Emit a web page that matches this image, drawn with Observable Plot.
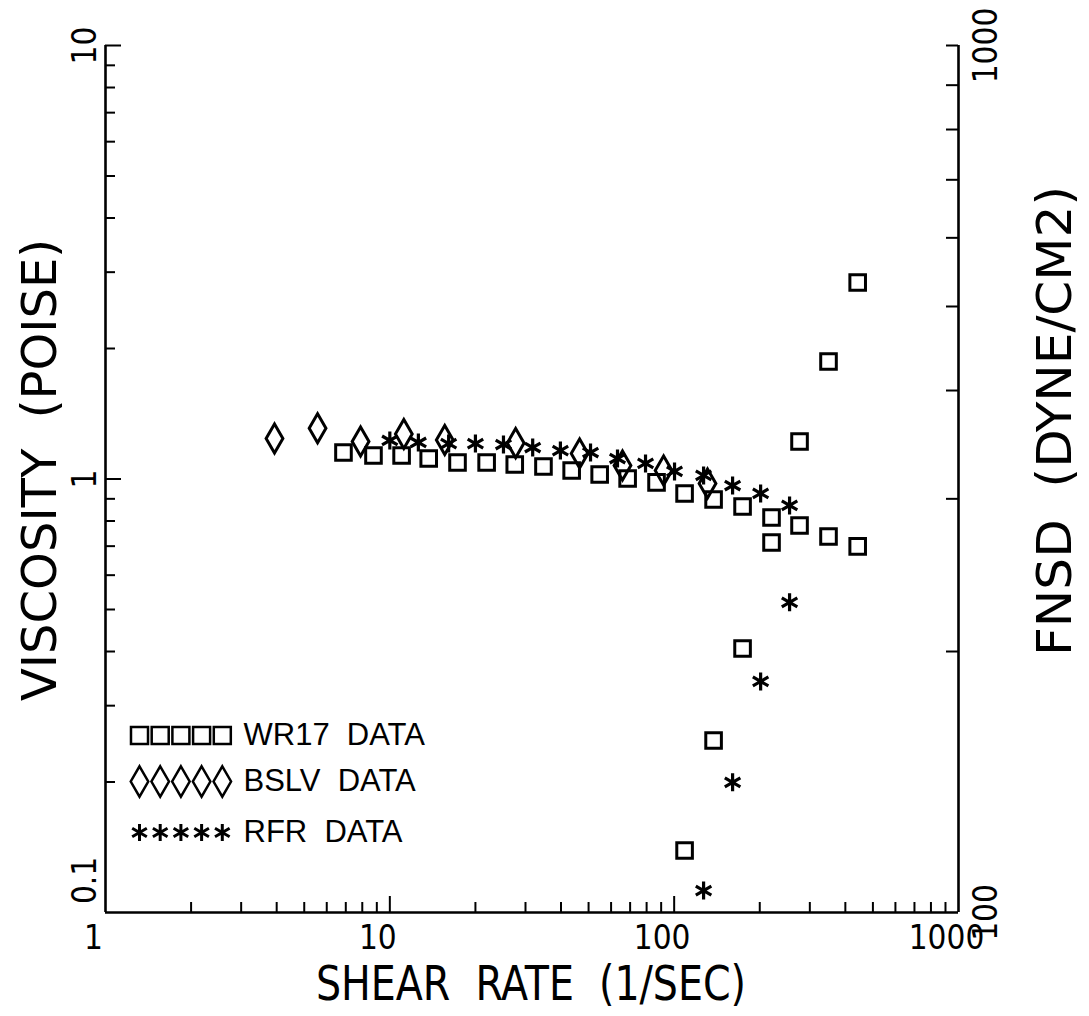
<!DOCTYPE html>
<html><head><meta charset="utf-8">
<script src="https://cdn.jsdelivr.net/npm/d3@7"></script>
<script src="https://cdn.jsdelivr.net/npm/@observablehq/plot@0.6"></script>
<style>
html,body{margin:0;padding:0;background:#fff;}
#chart svg text{white-space:pre;}
</style></head>
<body><div id="chart"></div>
<script>
// ---- data ----
const wr17Shear     = [6.87, 8.76, 11.0, 13.7, 17.3, 21.9, 27.5, 34.7, 43.6, 54.7, 68.6, 86.7, 108.8, 137.6, 174, 220, 276, 349, 442];
const wr17Viscosity = [1.151, 1.133, 1.133, 1.115, 1.092, 1.092, 1.080, 1.069, 1.046, 1.024, 1.003, 0.982, 0.926, 0.897, 0.864, 0.815, 0.781, 0.737, 0.699];
const wr17FnsdShear = [108.8, 137.6, 174, 220, 276, 349, 442];
const wr17Fnsd      = [117.9, 157.9, 201.6, 267.2, 349.4, 432.0, 532.8];
const bslvShear     = [3.93, 5.57, 7.89, 11.2, 15.6, 27.7, 46.5, 65.8, 91.8, 131];
const bslvViscosity = [1.24, 1.31, 1.22, 1.27, 1.23, 1.21, 1.145, 1.074, 1.046, 0.976];
const rfrShear      = [10.0, 12.6, 16.1, 20.0, 25.1, 31.8, 39.8, 50.8, 63.2, 79.3, 100.3, 126.9, 160.5, 201.4, 254.6];
const rfrViscosity  = [1.227, 1.214, 1.207, 1.207, 1.201, 1.182, 1.163, 1.151, 1.115, 1.086, 1.041, 1.019, 0.966, 0.926, 0.869];
const rfrFnsdShear  = [126.9, 160.5, 201.4, 254.6];
const rfrFnsd       = [106.0, 141.3, 184.7, 227.9];

const xTickValues = [1, 10, 100, 1000];
const xTickLabels = ["1", "10", "100", "1000"];
const xMinorTicks = [2,3,4,5,6,7,8,9,20,30,40,50,60,70,80,90,200,300,400,500,600,700,800,900];
const xMajorTicks = [10, 100];
const viscTickValues = [1, 10];
const viscTickLabels = ["1", "10"];
const viscBottomValue = [0.1];
const viscBottomLabel = ["0.1"];
const viscMinorTicks = [0.2,0.3,0.4,0.5,0.6,0.7,0.8,0.9,2,3,4,5,6,7,8,9];
const viscMajorTicks = [1, 10];
const fnsdTickValues = [100, 1000];
const fnsdTickLabels = ["100", "1000"];
const fnsdMinorTicks = [200,300,400,500,600,700,800,900,1000];

const xTitle = "SHEAR  RATE  (1/SEC)";
const yTitle = "VISCOSITY  (POISE)";
const y2Title = "FNSD  (DYNE/CM2)";
const legendLabels = ["WR17  DATA", "BSLV  DATA", "RFR  DATA"];
const legendSymbols = ["square", "diamond", "asterisk"];

// right axis (FNSD, one decade 100..1000) shares the frame with viscosity (0.1..10)
const fnsdToY = f => f * f / 1e5;

// ---- chart ----
const W = 1089, H = 1016, mL = 105, mR = 131, mT = 45, mB = 104;
const fw = W - mL - mR, fh = H - mT - mB;
const narrow = '"Liberation Sans Narrow", "DejaVu Sans Condensed", "Liberation Sans", sans-serif';
const regular = '"Liberation Sans", Arial, sans-serif';

const pts = (xs, ys, f = d => d) => xs.map((x, i) => ({x, y: f(ys[i])}));
const sym = {stroke: "black", fill: "none", strokeWidth: 3};
const tickFont = {fontSize: 33, fontFamily: narrow, fill: "black", textAnchor: "middle", lineAnchor: "middle"};
const titleFont = {fontSize: 48, fontFamily: narrow, fill: "black", textAnchor: "middle", lineAnchor: "middle"};

const marks = [
  Plot.ruleX([1], {strokeWidth: 2.6}),
  Plot.ruleX([1000], {strokeWidth: 2.6}),
  Plot.ruleY([0.1], {strokeWidth: 2.6}),
  Plot.tickY(viscMinorTicks, {insetRight: fw - 10, strokeWidth: 2}),
  Plot.tickY(viscMajorTicks, {insetRight: fw - 16, strokeWidth: 2}),
  Plot.tickY(fnsdMinorTicks, {y: fnsdToY, insetLeft: fw - 12, strokeWidth: 2}),
  Plot.tickX(xMinorTicks, {insetTop: fh - 10, strokeWidth: 2}),
  Plot.tickX(xMajorTicks, {insetTop: fh - 16, strokeWidth: 2}),
  // tick labels
  Plot.text(xTickValues, {x: d => d, text: (d, i) => xTickLabels[i], frameAnchor: "bottom", dx: -12, dy: 26, ...tickFont}),
  Plot.text(viscTickValues, {y: d => d, text: (d, i) => viscTickLabels[i], frameAnchor: "left", dx: -20, rotate: -90, ...tickFont}),
  Plot.text(viscBottomValue, {y: d => d, text: (d, i) => viscBottomLabel[i], frameAnchor: "left", dx: -20, dy: -32, rotate: -90, ...tickFont}),
  Plot.text(fnsdTickValues, {y: fnsdToY, text: (d, i) => fnsdTickLabels[i], frameAnchor: "right", dx: 28, rotate: -90, ...tickFont}),
  // axis titles
  Plot.text([xTitle], {text: d => d, frameAnchor: "bottom", dx: -1, dy: 72, ...titleFont}),
  Plot.text([yTitle], {text: d => d, frameAnchor: "left", dx: -65, dy: -9, rotate: -90, ...titleFont}),
  Plot.text([y2Title], {text: d => d, frameAnchor: "right", dx: 97, dy: -58, rotate: -90, ...titleFont}),
  // data
  Plot.dot(pts(wr17Shear, wr17Viscosity), {x: "x", y: "y", symbol: "square", r: 8.8, ...sym}),
  Plot.dot(pts(wr17FnsdShear, wr17Fnsd, fnsdToY), {x: "x", y: "y", symbol: "square", r: 8.8, ...sym}),
  Plot.dot(pts(bslvShear, bslvViscosity), {x: "x", y: "y", symbol: "diamond", r: 8.8, ...sym}),
  Plot.dot(pts(rfrShear, rfrViscosity), {x: "x", y: "y", symbol: "asterisk", r: 8.5, ...sym, strokeWidth: 3.2}),
  Plot.dot(pts(rfrFnsdShear, rfrFnsd, fnsdToY), {x: "x", y: "y", symbol: "asterisk", r: 8.5, ...sym, strokeWidth: 3.2})
];

// legend (inside the frame, lower left)
const legendDy = [-177, -131, -80];
const legendR = [9.6, 9.2, 8];
legendLabels.forEach((label, row) => {
  for (let k = 0; k < 5; k++) {
    marks.push(Plot.dot([label], {frameAnchor: "bottom-left", dx: 34 + 20.7 * k, dy: legendDy[row],
      symbol: legendSymbols[row], r: legendR[row], ...sym, strokeWidth: row === 2 ? 3 : 2.5}));
  }
  marks.push(Plot.text([label], {text: d => d, frameAnchor: "bottom-left", dx: 138, dy: legendDy[row],
    textAnchor: "start", lineAnchor: "middle", fontSize: 31, fontFamily: regular, fill: "black"}));
});

const chart = Plot.plot({
  width: W, height: H,
  marginLeft: mL, marginRight: mR, marginTop: mT, marginBottom: mB,
  x: {type: "log", domain: [1, 1000], axis: null},
  y: {type: "log", domain: [0.1, 10], axis: null},
  style: {background: "white", color: "black", fontFamily: narrow},
  marks
});
document.getElementById("chart").appendChild(chart);

// stretch the axis titles to the lengths they have in the reference
const lengths = {[xTitle]: 430, [yTitle]: 462, [y2Title]: 470};
d3.select(chart).selectAll("text").each(function () {
  const L = lengths[this.textContent];
  if (L) d3.select(this).attr("textLength", L).attr("lengthAdjust", "spacingAndGlyphs");
});
</script>
</body></html>
